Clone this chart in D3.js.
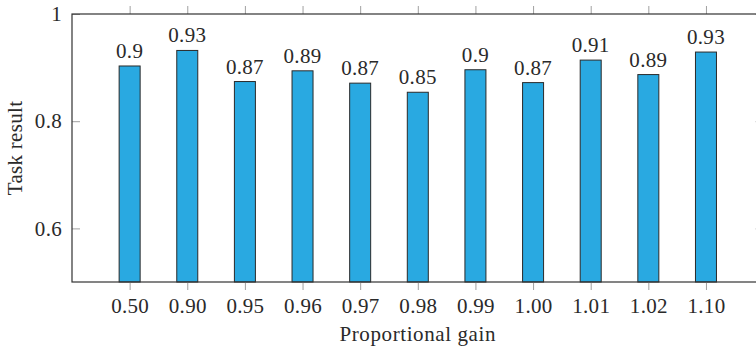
<!DOCTYPE html>
<html>
<head>
<meta charset="utf-8">
<script src="https://cdn.jsdelivr.net/npm/d3@7"></script>
<style>
  html, body { margin: 0; padding: 0; background: #fff; }
  svg { display: block; }
  svg text { font-family: "Liberation Serif", "Times New Roman", serif !important; fill: #2a2a2a; }
</style>
</head>
<body>
<svg id="chart" width="756" height="350"></svg>
<script>
const categories = ["0.50", "0.90", "0.95", "0.96", "0.97", "0.98", "0.99", "1.00", "1.01", "1.02", "1.10"];
const values = [0.903, 0.932, 0.874, 0.894, 0.871, 0.854, 0.896, 0.872, 0.914, 0.887, 0.929];
const yTicks = [0.6, 0.8, 1];
const xTitle = "Proportional gain";
const yTitle = "Task result";

const svg = d3.select("#chart");
const mLeft = 72, mRight = 763.6, mTop = 14, mBottom = 282;

const x = d3.scalePoint().domain(categories).range([mLeft, mRight]).padding(1);
const y = d3.scaleLinear().domain([0.5, 1]).range([mBottom, mTop]);

const fmt = v => String(+v.toFixed(2));
const barW = 21;
const tickColor = "#a0a0a0";
const axisColor = "#333";
const fs = 21;
const serif = "'Liberation Serif', 'Times New Roman', serif";

// bars
svg.append("g").selectAll("rect").data(values).join("rect")
  .attr("x", (d, i) => x(categories[i]) - barW / 2)
  .attr("y", d => y(d))
  .attr("width", barW)
  .attr("height", d => y(0.5) - y(d))
  .attr("fill", "#29a9e1")
  .attr("stroke", "#2a2a2a")
  .attr("stroke-width", 1);

// bar labels
svg.append("g").attr("font-family", serif).selectAll("text").data(values).join("text")
  .attr("x", (d, i) => x(categories[i]))
  .attr("y", d => y(d) - 8)
  .attr("text-anchor", "middle")
  .attr("font-size", fs)
  .attr("letter-spacing", 0.3)
  .text(d => fmt(d));

// bottom axis (ticks outward)
const gx = svg.append("g").attr("transform", `translate(0,${mBottom})`)
  .call(d3.axisBottom(x).tickSize(8));
gx.attr("font-family", serif).attr("font-size", fs);
gx.select(".domain").remove();
gx.selectAll(".tick line").attr("stroke", tickColor);
gx.selectAll(".tick text").attr("fill", null).attr("dy", null).attr("y", 31).attr("letter-spacing", 0.3);

// top axis ticks (outward)
const gxt = svg.append("g").attr("transform", `translate(0,${mTop})`)
  .call(d3.axisTop(x).tickSize(8).tickFormat(""));
gxt.select(".domain").remove();
gxt.selectAll(".tick line").attr("stroke", tickColor);

// left axis (ticks inward)
const gy = svg.append("g").attr("transform", `translate(${mLeft},0)`)
  .call(d3.axisLeft(y).tickValues(yTicks).tickSize(-8).tickPadding(10).tickFormat(d => String(d)));
gy.attr("font-family", serif).attr("font-size", fs);
gy.select(".domain").remove();
gy.selectAll(".tick line").attr("stroke", tickColor);
gy.selectAll(".tick text").attr("fill", null).attr("letter-spacing", 0.3);

// right axis ticks (inward)
const gyr = svg.append("g").attr("transform", `translate(${mRight},0)`)
  .call(d3.axisRight(y).tickValues(yTicks).tickSize(-8).tickFormat(""));
gyr.select(".domain").remove();
gyr.selectAll(".tick line").attr("stroke", tickColor);

// frame
svg.append("rect")
  .attr("x", mLeft).attr("y", mTop)
  .attr("width", mRight - mLeft).attr("height", mBottom - mTop)
  .attr("fill", "none").attr("stroke", axisColor).attr("stroke-width", 1.2);

// titles
svg.append("text")
  .attr("x", (mLeft + mRight) / 2).attr("y", 341)
  .attr("text-anchor", "middle").attr("font-size", fs)
  .attr("font-family", serif).attr("letter-spacing", 0.6)
  .text(xTitle);

svg.append("text")
  .attr("transform", `translate(22,${(mTop + mBottom) / 2}) rotate(-90)`)
  .attr("text-anchor", "middle").attr("font-size", fs)
  .attr("font-family", serif).attr("letter-spacing", 0.3)
  .text(yTitle);
</script>
</body>
</html>
